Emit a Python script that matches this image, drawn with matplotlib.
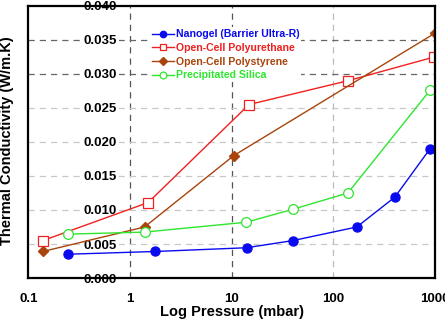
import matplotlib
matplotlib.use("Agg")
import matplotlib.pyplot as plt
from matplotlib.ticker import FixedLocator, FixedFormatter

plt.rcParams['font.family'] = ['Liberation Sans', 'DejaVu Sans']
plt.rcParams['font.weight'] = 'bold'

# Data
nano_x = [0.248, 1.78, 14.0, 39.9, 170, 403, 893]
nano_y = [0.0035, 0.0039, 0.00445, 0.0055, 0.0075, 0.0119, 0.0190]

pu_x = [0.139, 1.51, 14.8, 139, 985]
pu_y = [0.0055, 0.0111, 0.0255, 0.0290, 0.0325]

ps_x = [0.139, 1.39, 10.5, 1000]
ps_y = [0.0039, 0.0075, 0.0180, 0.0360]

si_x = [0.248, 1.39, 13.9, 39.9, 139, 893]
si_y = [0.00645, 0.00675, 0.0082, 0.0101, 0.0125, 0.0276]

labels = ["Nanogel (Barrier Ultra-R)", "Open-Cell Polyurethane",
          "Open-Cell Polystyrene", "Precipitated Silica"]
colors = ["#0a0aee", "#f02020", "#a8440c", "#2ee62e"]

x_ticks = [0.1, 1, 10, 100, 1000]
x_ticklabels = ["0.1", "1", "10", "100", "1000"]
y_ticks = [0.000, 0.005, 0.010, 0.015, 0.020, 0.025, 0.030, 0.035, 0.040]
y_ticklabels = ["0.000", "0.005", "0.010", "0.015", "0.020", "0.025", "0.030", "0.035", "0.040"]

fig = plt.figure(figsize=(4.45, 3.22), dpi=100)
ax = fig.add_axes([0.0636, 0.1366, 0.914, 0.845])
ax.set_xscale('log')
ax.set_xlim(0.1, 1000)
ax.set_ylim(0, 0.040)

# gridlines
for xv in x_ticks[1:-1]:
    c = '#555555' if xv in (1, 10) else '#bbbbbb'
    ax.axvline(xv, color=c, ls=(0, (5, 4)), lw=0.9, zorder=0.5)
for yv in y_ticks[1:-1]:
    c = '#666666' if yv in (0.030, 0.035) else '#c8c8c8'
    ax.axhline(yv, color=c, ls=(0, (5, 4)), lw=0.9, zorder=0.5)

l1, = ax.plot(nano_x, nano_y, color=colors[0], lw=1.0, marker='o', ms=6.5,
              mfc=colors[0], mec=colors[0], label=labels[0], zorder=3)
l2, = ax.plot(pu_x, pu_y, color=colors[1], lw=1.0, marker='s', ms=7,
              mfc='white', mec=colors[1], mew=0.9, label=labels[1], zorder=3)
l3, = ax.plot(ps_x, ps_y, color=colors[2], lw=1.0, marker='D', ms=5.5,
              mfc=colors[2], mec=colors[2], label=labels[2], zorder=3)
l4, = ax.plot(si_x, si_y, color=colors[3], lw=1.0, marker='o', ms=7,
              mfc='white', mec=colors[3], mew=0.9, label=labels[3], zorder=3)

ax.xaxis.set_major_locator(FixedLocator(x_ticks))
ax.xaxis.set_major_formatter(FixedFormatter(x_ticklabels))
ax.xaxis.set_minor_locator(FixedLocator([]))
ax.yaxis.set_major_locator(FixedLocator(y_ticks))
ax.yaxis.set_major_formatter(FixedFormatter(y_ticklabels))
ax.tick_params(axis='x', length=0, pad=11, labelsize=9.5)
ax.tick_params(axis='y', length=0, pad=-64, labelsize=9.5)
for lab in ax.get_yticklabels():
    lab.set_fontweight('bold')
    lab.set_bbox(dict(facecolor='white', edgecolor='none', pad=1.0))
for lab in ax.get_xticklabels():
    lab.set_fontweight('bold')

for s in ax.spines.values():
    s.set_linewidth(1.6)
    s.set_zorder(4)

ax.set_xlabel("Log Pressure (mbar)", fontsize=10.5, fontweight='bold', labelpad=0)
ax.set_ylabel("Thermal Conductivity (W/m.K)", fontsize=10.5, fontweight='bold')
ax.yaxis.set_label_coords(-0.036, 0.505)

leg = ax.legend(handles=[l1, l2, l3, l4], loc='upper left',
                bbox_to_anchor=(0.3, 0.922), frameon=True, fontsize=7.6,
                handlelength=2.0, handletextpad=0.2, labelspacing=0.35,
                borderaxespad=0, borderpad=0.2, markerscale=0.7)
leg.get_frame().set_facecolor('white')
leg.get_frame().set_edgecolor('none')
leg.get_frame().set_alpha(1.0)
leg.set_zorder(2)
for txt, c in zip(leg.get_texts(), colors):
    txt.set_color(c)
    txt.set_fontweight('bold')

fig.savefig("out.png", dpi=100)
